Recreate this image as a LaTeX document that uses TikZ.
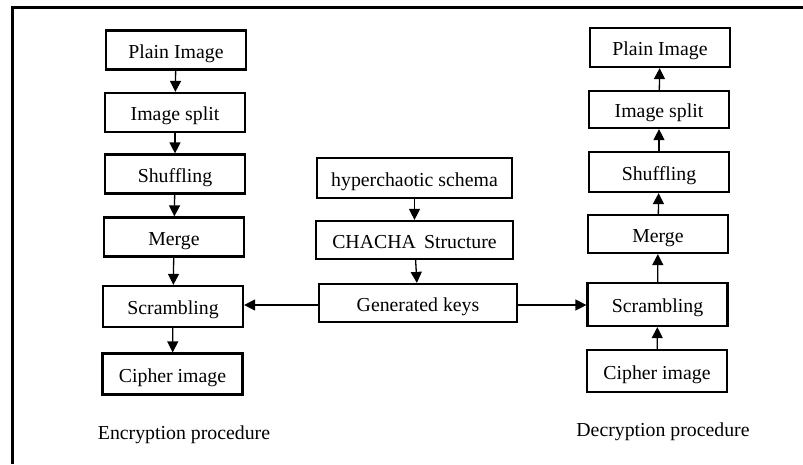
\documentclass[tikz,border=0pt]{standalone}
\usepackage{fontspec}
\setmainfont{Liberation Serif}
\usetikzlibrary{arrows.meta}
\begin{document}
\begin{tikzpicture}[x=1pt,y=-1pt,
  box/.style={draw, line width=2.2pt, minimum width=#1, minimum height=39pt, inner sep=0pt,
    text height=16pt, text depth=0pt, font=\fontsize{19.8}{21}\selectfont},
  box/.default=140pt,
  arr/.style={line width=1.3pt, -{Triangle[length=11pt,width=11pt]}},
  lbl/.style={font=\fontsize{19.8}{21}\selectfont, inner sep=0pt}]
\useasboundingbox (0,0) rectangle (803,464);
% frame
\draw[line width=3pt] (12,464) -- (12,7) -- (803,7);
% encryption column
\node[box] (lp) at (176,50) {Plain Image};
\node[box] (ls) at (175,112.5) {Image split};
\node[box] (lsh) at (175,174) {Shuffling};
\node[box] (lm) at (174,237) {Merge};
\node[box, minimum height=41pt] (lsc) at (173,306.5) {Scrambling};
\node[box, minimum height=41pt] (lc) at (172.5,374) {Cipher image};
\node[lbl] (le) at (184,435) {Encryption procedure};
% middle
\node[box=195pt, minimum height=40pt] (hy) at (414.5,178) {hyperchaotic schema};
\node[box=197pt, minimum height=38pt] (ch) at (414.5,240) {CHACHA\, Structure};
\node[box=198pt, minimum height=38pt] (gk) at (418,303) {Generated keys};
% decryption column
\node[box] (rp) at (660,47.5) {Plain Image};
\node[box, minimum height=37pt] (rs) at (659,109.5) {Image split};
\node[box, minimum height=40pt] (rsh) at (659,172) {Shuffling};
\node[box, minimum height=38pt] (rm) at (658,234) {Merge};
\node[box, minimum height=43pt] (rsc) at (657.5,304.5) {Scrambling};
\node[box, minimum height=42pt] (rc) at (657,371) {Cipher image};
\node[lbl] (rd) at (663,432) {Decryption procedure};
% arrows
\draw[arr] (lp) -- (ls);
\draw[arr] (ls) -- (lsh);
\draw[arr] (lsh) -- (lm);
\draw[arr] (lm) -- (lsc);
\draw[arr] (lsc) -- (lc);
\draw[arr] (hy) -- (ch);
\draw[arr] (ch) -- (gk);
\draw[arr] (rc) -- (rsc);
\draw[arr] (rsc) -- (rm);
\draw[arr] (rm) -- (rsh);
\draw[arr] (rsh) -- (rs);
\draw[arr] (rs) -- (rp);
\draw[arr] (gk.west |- 0,305) -- (lsc.east |- 0,305);
\draw[arr] (gk.east |- 0,305) -- (rsc.west |- 0,305);
\end{tikzpicture}
\end{document}
